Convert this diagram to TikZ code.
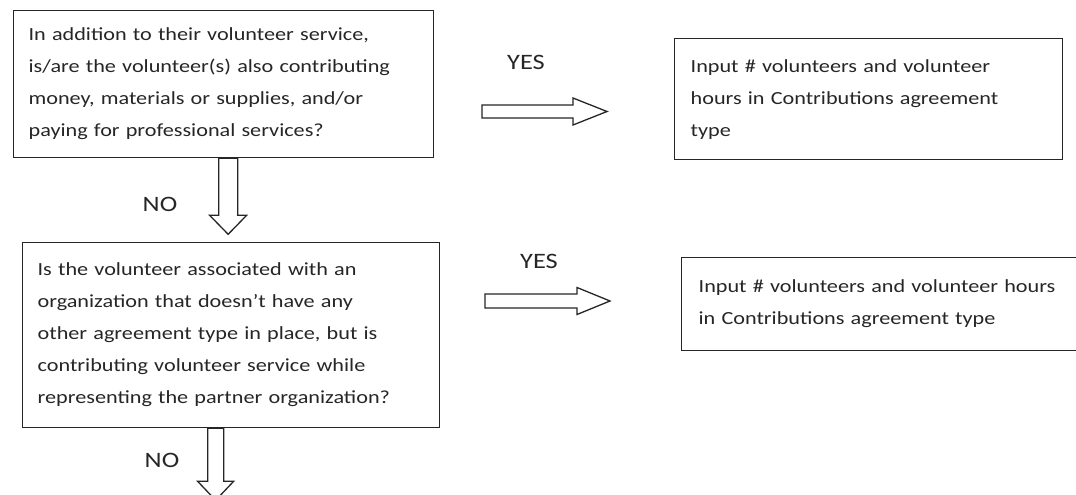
\documentclass[tikz,border=0pt]{standalone}
\usepackage{fontspec}
\setmainfont{Carlito}[FakeStretch=1.2]
\usepackage{tikz}
\usetikzlibrary{positioning}

\begin{document}
\begin{tikzpicture}[x=1pt, y=-1pt,
    qbox/.style={draw=black!85, line width=1.3pt, anchor=north west, align=left,
        inner xsep=15pt, text=black!85, font=\fontsize{18.5}{32}\selectfont},
    fat/.style={draw=black!85, line width=1.3pt, fill=white, line join=miter},
    lbl/.style={text=black!85, font=\fontsize{22}{26}\selectfont}]
\useasboundingbox (0,0) rectangle (1076,495);
\clip (0,0) rectangle (1076,495);

% 第一个问题
\node[qbox, text width=390pt, minimum height=147pt] (q1) at (13,10)
    {In addition to their volunteer service,\\
     is/are the volunteer(s) also contributing\\
     money, materials or supplies, and/or\\
     paying for professional services?};
\node[qbox, inner xsep=16pt, text width=356pt, minimum height=121pt] (r1) at (674,38)
    {Input \# volunteers and volunteer\\
     hours in Contributions agreement\\
     type};

% 第二个问题
\node[qbox, text width=387pt, minimum height=185pt] (q2) at (22,242)
    {Is the volunteer associated with an\\
     organization that doesn’t have any\\
     other agreement type in place, but is\\
     contributing volunteer service while\\
     representing the partner organization?};
\node[qbox, inner xsep=17pt, text width=380pt, minimum height=93pt] (r2) at (681,257)
    {Input \# volunteers and volunteer hours\\
     in Contributions agreement type};

% YES
\coordinate (yes1) at (482,111.5);
\draw[fat] (yes1) ++(0,-6.5) -- ++(91,0) -- ++(0,-7) -- ++(34,13.5)
    -- ++(-34,13.5) -- ++(0,-7) -- ++(-91,0) -- cycle;
\node[lbl] (y1) at (526,62) {YES};
\coordinate (yes2) at (485,301);
\draw[fat] (yes2) ++(0,-7) -- ++(92,0) -- ++(0,-6.5) -- ++(33,13.5)
    -- ++(-33,13.5) -- ++(0,-6.5) -- ++(-92,0) -- cycle;
\node[lbl] (y2) at (539,261.5) {YES};

% NO
\coordinate (no1) at ([xshift=4.5pt]q1.south);
\draw[fat] (no1) ++(-9.5,0) -- ++(0,57) -- ++(-9,0) -- ++(18.5,19)
    -- ++(18.5,-19) -- ++(-9,0) -- ++(0,-57) -- cycle;
\node[lbl] (n1) at (160,204) {NO};
\coordinate (no2) at ([xshift=-15.5pt]q2.south);
\draw[fat] (no2) ++(-8,0) -- ++(0,53) -- ++(-10,0) -- ++(18,19)
    -- ++(18,-19) -- ++(-10,0) -- ++(0,-53) -- cycle;
\node[lbl] (n2) at (162,460) {NO};
\end{tikzpicture}
\end{document}
